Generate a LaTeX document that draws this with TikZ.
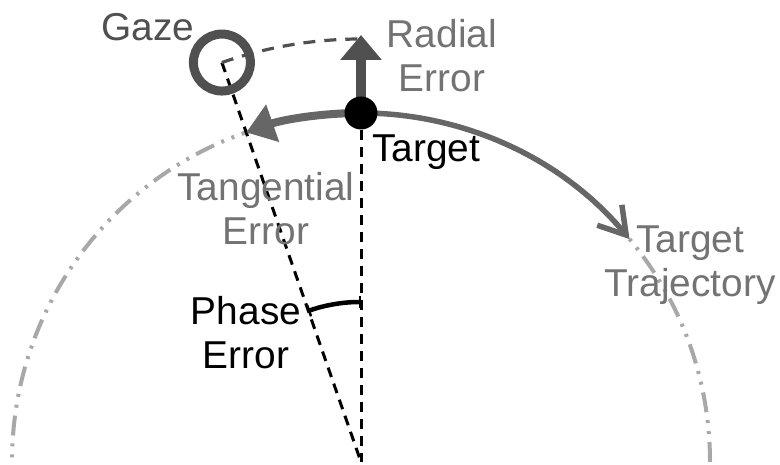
\documentclass[tikz,border=0pt]{standalone}
\usepackage{fontspec}
\setmainfont{Liberation Sans}
\usetikzlibrary{arrows.meta,calc}
\definecolor{traj}{HTML}{A8A8A8}
\definecolor{arr}{HTML}{666666}
\definecolor{gz}{HTML}{505050}
\definecolor{lbl}{HTML}{737373}
\begin{document}
\begin{tikzpicture}[x=1bp,y=1bp,
  font=\fontsize{39}{44}\selectfont,
  lab/.style={align=center, inner sep=0pt},
  guide/.style={black, line width=3bp, dash pattern=on 10bp off 7bp},
  trajline/.style={traj, line width=4bp, dash pattern=on 20bp off 8bp on 3bp off 8bp on 3bp off 8bp}]
\useasboundingbox (0,0) rectangle (780,465);
\coordinate (C) at (361,3);
\coordinate (T) at ($(C)+(90:349)$);
\coordinate (G) at ($(C)+(109.2:423)$);
\coordinate (R) at (361,430);
\coordinate (P) at ($(C)+(90:160)$);
% trajectory circle
\begin{scope}
\clip (0,0) rectangle (780,465);
\draw[trajline] ($(C)+(0:349)$) arc[start angle=0, end angle=180, radius=349];
\end{scope}
% guides
\draw[guide] (T) -- (C);
\draw[guide] (G) -- (C);
\draw[gz, line width=3.2bp, dash pattern=on 12bp off 9bp] (G) arc[start angle=109.2, end angle=90, radius=423];
% phase error
\draw[black, line width=4.5bp, {Bar[width=12bp,line width=2.5bp]}-{Bar[width=12bp,line width=2.5bp]}] (P) arc[start angle=90, end angle=109.4, radius=160];
% trajectory arrow
\draw[arr, line width=5.5bp, -{Straight Barb[length=26bp,width=32bp]}] (T) arc[start angle=90, end angle=39.7, radius=349];
% tangential arrow
\draw[arr, line width=8bp, -{Triangle[length=28bp,width=38bp]}] (T) arc[start angle=90, end angle=109.2, radius=349];
% radial arrow
\draw[gz, line width=10bp, -{Triangle[length=25bp,width=40bp]}] (T) -- (R);
% target dot
\node[circle, fill=black, minimum size=33bp, inner sep=0pt] (tgt) at (T) {};
% gaze circle
\node[circle, draw=gz, line width=9bp, minimum size=57bp, inner sep=0pt] (gaze) at (G) {};
% labels
\node[lab, text=gz] (lgaze) at (148,438) {Gaze};
\node[lab, text=lbl] (lrad) at (442,409) {Radial\\Error};
\node[lab, text=black] (ltgt) at (426,313) {Target};
\node[lab, text=lbl] (ltan) at (266,256) {Tangential\\Error};
\node[lab, text=black] (lphase) at (246,132) {Phase\\Error};
\node[lab, text=lbl] (ltraj) at (690,200) {Target\\Trajectory};
\end{tikzpicture}
\end{document}
